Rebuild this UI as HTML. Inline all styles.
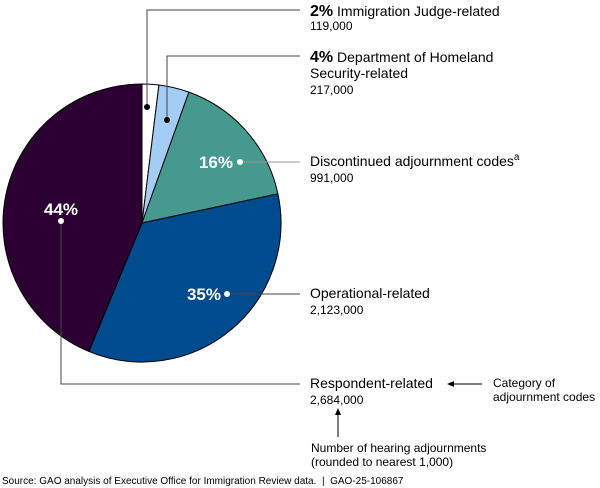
<!DOCTYPE html>
<html><head><meta charset="utf-8"><style>
body{margin:0;background:#fff;width:600px;height:488px;overflow:hidden;font-family:"Liberation Sans",Arial,sans-serif}
svg{display:block}
text{font-family:"Liberation Sans",Arial,sans-serif}
</style></head><body>
<svg id="chart" width="600" height="488">
<g id="slices"></g>
<g id="leaders"></g>
<g id="labels"></g>
<g fill="#000">
 <line x1="452" y1="384" x2="482" y2="384" stroke="#000" stroke-width="1"/>
 <path d="M447,384L454,381L454,387Z"/>
 <text x="493" y="387" font-size="12">Category of</text>
 <text x="493" y="401" font-size="12">adjournment codes</text>
 <line x1="338" y1="412" x2="338" y2="437" stroke="#000" stroke-width="1"/>
 <path d="M338,408L335,415L341,415Z"/>
 <text x="311" y="452" font-size="12">Number of hearing adjournments</text>
 <text x="311" y="466" font-size="12">(rounded to nearest 1,000)</text>
</g>
<text x="2" y="484" font-size="10" fill="#000" xml:space="preserve">Source: GAO analysis of Executive Office for Immigration Review data.  |  GAO-25-106867</text>
</svg>
<script>
const categories=["Immigration Judge-related","Department of Homeland Security-related","Discontinued adjournment codes","Operational-related","Respondent-related"];
const values=[119000,217000,991000,2123000,2684000];
const valueLabels=["119,000","217,000","991,000","2,123,000","2,684,000"];
const pctLabels=["2%","4%","16%","35%","44%"];
const colors=["#ffffff","#a3cdf5","#45998f","#004b8d","#2d0033"];
const NS="http://www.w3.org/2000/svg";
const cx=142,cy=223,R=139;
const total=values.reduce((a,b)=>a+b,0);
function pt(a,r){return [cx+r*Math.sin(a),cy-r*Math.cos(a)];}
function mk(tag,attrs,parent){const e=document.createElementNS(NS,tag);for(const k in attrs)e.setAttribute(k,attrs[k]);parent.appendChild(e);return e;}
const gS=document.getElementById('slices'),gL=document.getElementById('leaders'),gT=document.getElementById('labels');
let acc=0;
values.forEach((v,i)=>{
 const a0=acc/total*2*Math.PI;acc+=v;const a1=acc/total*2*Math.PI;
 const p0=pt(a0,R),p1=pt(a1,R);const large=(a1-a0)>Math.PI?1:0;
 const p=mk('path',{d:`M${cx},${cy}L${p0[0]},${p0[1]}A${R},${R} 0 ${large} 1 ${p1[0]},${p1[1]}Z`,fill:colors[i],stroke:'#000','stroke-width':1},gS);
 
 
});
// annotation leader dot positions (layout, not data)
const dots=[[147,107],[167,120],[240,162],[227,294],[61,221]];
const rowY=[16,62,166,298,388];
const tx=310;
dots.forEach((d,i)=>{
 const [dx,dy]=d;
 const col=(i<2)?'#000':'#fff';
 let path;
 if(i<2){path=`M${dx},${dy}V${rowY[i]-6}H300`;}
 else if(i===4){path=`M${dx},${dy}V${rowY[i]-4}H300`;}
 else{path=`M${dx},${dy}H300`;}
 const l=mk('path',{d:path,fill:'none',stroke:i===2?'#999':'#444','stroke-width':1},gL);
 
 
 const c=mk('circle',{cx:dx,cy:dy,r:3,fill:col},gL);
 
 
});
const inPct=[[2,233,168,'end'],[3,221,300,'end'],[4,61,215,'middle']];
inPct.forEach(([i,x,y,a])=>{
 const t=mk('text',{x:x,y:y,'font-size':17,'font-weight':'bold',fill:'#fff','text-anchor':a},gT);
 t.textContent=pctLabels[i];
 
 
});
function txt(x,y,s,str){const t=mk('text',{x:x,y:y,'font-size':s,fill:'#000'},gT);t.textContent=str;return t;}
let t;
t=mk('text',{x:tx,y:rowY[0],'font-size':14,fill:'#000'},gT);t.innerHTML='<tspan font-weight="bold" font-size="16">'+pctLabels[0]+'</tspan> '+categories[0];

t=txt(tx,rowY[0]+14,12,valueLabels[0]);
t=mk('text',{x:tx,y:rowY[1],'font-size':14,fill:'#000'},gT);t.innerHTML='<tspan font-weight="bold" font-size="16">'+pctLabels[1]+'</tspan> Department of Homeland';

t=txt(tx,rowY[1]+16,14,'Security-related');
t=txt(tx,rowY[1]+32,12,valueLabels[1]);
t=mk('text',{x:tx,y:rowY[2],'font-size':14,fill:'#000'},gT);t.innerHTML=categories[2]+'<tspan font-size="10" dy="-6">a</tspan>';

t=txt(tx,rowY[2]+16,12,valueLabels[2]);
t=txt(tx,rowY[3],14,categories[3]);
t=txt(tx,rowY[3]+16,12,valueLabels[3]);
t=txt(tx,rowY[4],14,categories[4]);
t=txt(tx,rowY[4]+16,12,valueLabels[4]);
</script>
</body></html>
